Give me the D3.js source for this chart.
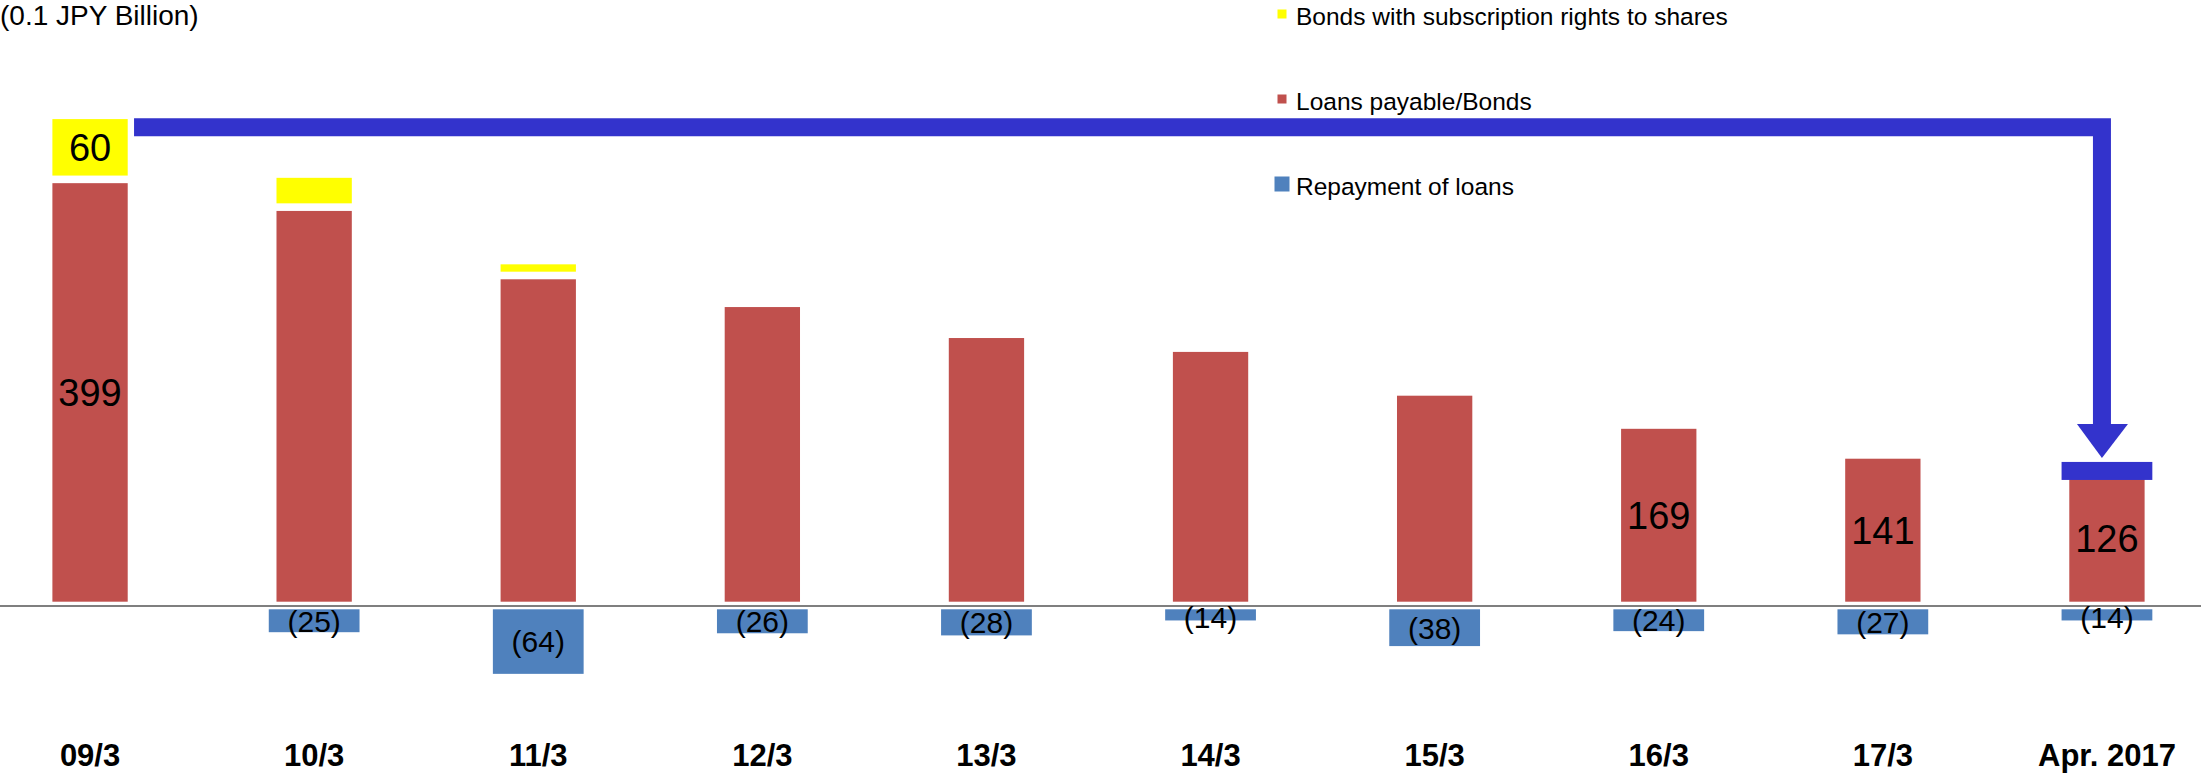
<!DOCTYPE html>
<html>
<head>
<meta charset="utf-8">
<script src="https://cdn.jsdelivr.net/npm/d3@7"></script>
<style>
  body { margin: 0; background: #fff; }
  svg { display: block; font-family: "Liberation Sans", Arial, sans-serif; }
</style>
</head>
<body>
<svg width="2201" height="774"></svg>
<script>
var categories = ["09/3", "10/3", "11/3", "12/3", "13/3", "14/3", "15/3", "16/3", "17/3", "Apr. 2017"];
var loans = [399, 373, 309, 283, 254, 241, 200, 169, 141, 126];
var bonds = [60, 31, 14, 0, 0, 0, 0, 0, 0, 0];
var repayment = [0, 25, 64, 26, 28, 14, 38, 24, 27, 14];
var loanLabelShown = [true, false, false, false, false, false, false, true, true, true];
var bondLabelShown = [true, false, false, false, false, false, false, false, false, false];
var legendNames = ["Bonds with subscription rights to shares", "Loans payable/Bonds", "Repayment of loans"];

var colRed = "#c0504d", colYellow = "#ffff00", colBlue = "#4f81bd", colArrow = "#3333cc";

var svg = d3.select("svg");

var x = d3.scaleBand().domain(categories).range([-22, 2219]).padding(0);
var y = d3.scaleLinear().domain([-100, 450]).range([712.3, 124.9]);

var gap = 3.8; // white border round every bar
var redW = x.bandwidth() * 0.37;
var blueW = x.bandwidth() * 0.405;
function cx(i) { return x(categories[i]) + x.bandwidth() / 2; }

// title
svg.append("text")
  .attr("x", 0).attr("y", 25)
  .attr("font-size", 28)
  .text("(0.1 JPY Billion)");

var bars = svg.append("g");

// loans (red)
bars.selectAll(".loan")
  .data(loans)
  .enter().append("rect")
    .attr("class", "loan")
    .attr("x", function(d, i) { return cx(i) - redW / 2 + gap; })
    .attr("y", function(d) { return y(d) + gap; })
    .attr("width", redW - 2 * gap)
    .attr("height", function(d) { return y(0) - y(d) - 2 * gap; })
    .attr("fill", colRed);

// bonds (yellow), stacked on loans
bars.selectAll(".bond")
  .data(bonds)
  .enter().append("rect")
    .attr("class", "bond")
    .attr("x", function(d, i) { return cx(i) - redW / 2 + gap; })
    .attr("y", function(d, i) { return y(loans[i] + d) + gap; })
    .attr("width", redW - 2 * gap)
    .attr("height", function(d, i) { return Math.max(0, y(loans[i]) - y(loans[i] + d) - 2 * gap); })
    .attr("fill", colYellow)
    .attr("display", function(d) { return d > 0 ? null : "none"; });

// repayment (blue, negative)
bars.selectAll(".repay")
  .data(repayment)
  .enter().append("rect")
    .attr("class", "repay")
    .attr("x", function(d, i) { return cx(i) - blueW / 2; })
    .attr("y", function(d) { return y(0) + gap; })
    .attr("width", blueW)
    .attr("height", function(d) { return Math.max(0, y(-d) - y(0) - gap); })
    .attr("fill", colBlue)
    .attr("display", function(d) { return d > 0 ? null : "none"; });

// axis: zero line + category labels
var xAxis = d3.axisBottom(x).tickSize(0).tickPadding(138);
var gx = svg.append("g")
  .attr("transform", "translate(0," + y(0) + ")")
  .call(xAxis);
gx.select(".domain").attr("stroke", "#7f7f7f").attr("stroke-width", 2);
gx.selectAll("text")
  .attr("font-size", 31)
  .attr("font-weight", "bold")
  .attr("font-family", "Liberation Sans, Arial, sans-serif")
  .attr("fill", "#000");

// value labels
var labels = svg.append("g").attr("text-anchor", "middle").attr("fill", "#000");

labels.selectAll(".loanlab")
  .data(loans)
  .enter().append("text")
    .attr("x", function(d, i) { return cx(i); })
    .attr("y", function(d) { return (y(d) + y(0)) / 2; })
    .attr("dy", "0.36em")
    .attr("font-size", 38)
    .attr("display", function(d, i) { return loanLabelShown[i] ? null : "none"; })
    .text(function(d) { return d; });

labels.selectAll(".bondlab")
  .data(bonds)
  .enter().append("text")
    .attr("x", function(d, i) { return cx(i); })
    .attr("y", function(d, i) { return (y(loans[i] + d) + y(loans[i])) / 2; })
    .attr("dy", "0.36em")
    .attr("font-size", 38)
    .attr("display", function(d, i) { return bondLabelShown[i] ? null : "none"; })
    .text(function(d) { return d; });

labels.selectAll(".repaylab")
  .data(repayment)
  .enter().append("text")
    .attr("x", function(d, i) { return cx(i); })
    .attr("y", function(d) { return Math.max((y(0) + y(-d)) / 2 + 2, y(0) + 12); })
    .attr("dy", "0.36em")
    .attr("font-size", 30)
    .attr("display", function(d) { return d > 0 ? null : "none"; })
    .text(function(d) { return "(" + d + ")"; });

// arrow from 09/3 total down to Apr. 2017
var last = categories.length - 1;
var arrowY = y(loans[0] + bonds[0]) + 12;
var arrowX = cx(last) - 5;
var tipY = y(loans[last]) - 13;
var arrow = svg.append("g").attr("fill", colArrow);
arrow.append("path")
  .attr("d", "M" + (cx(0) + 44) + "," + arrowY + "H" + arrowX + "V" + (tipY - 34))
  .attr("fill", "none")
  .attr("stroke", colArrow)
  .attr("stroke-width", 18)
  .attr("stroke-linejoin", "miter");
arrow.append("path")
  .attr("d", "M" + (arrowX - 25) + "," + (tipY - 34) + "L" + (arrowX + 26) + "," + (tipY - 34) + "L" + arrowX + "," + tipY + "Z");
arrow.append("rect")
  .attr("x", cx(last) - blueW / 2)
  .attr("y", y(loans[last]) - 9)
  .attr("width", blueW)
  .attr("height", 18);

// legend
var legend = svg.append("g").attr("font-size", 24.5);
var legendCols = [colYellow, colRed, colBlue];
var legendSize = [9, 9, 15];
legendNames.forEach(function(name, i) {
  var base = 25 + i * 85;
  var s = legendSize[i];
  legend.append("rect")
    .attr("x", 1282 - s / 2).attr("y", base - 11 - s / 2)
    .attr("width", s).attr("height", s)
    .attr("fill", legendCols[i]);
  legend.append("text")
    .attr("x", 1296).attr("y", base)
    .text(name);
});
</script>
</body>
</html>
